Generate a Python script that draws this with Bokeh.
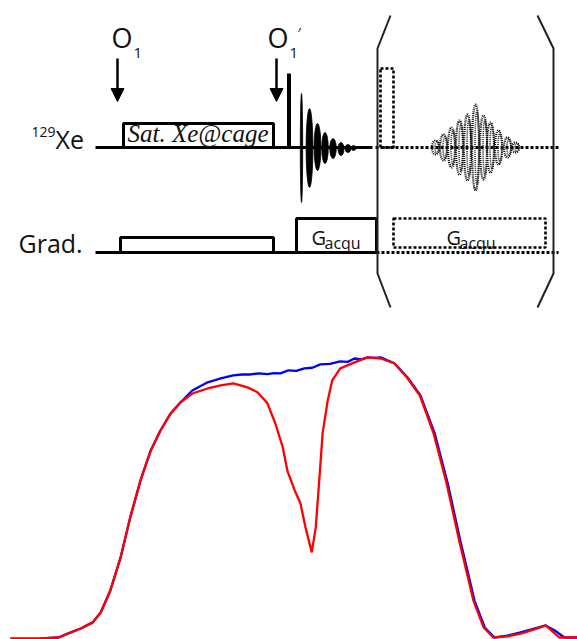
from bokeh.plotting import figure
from bokeh.models import Range1d, Arrow, NormalHead
from bokeh.layouts import column
from bokeh.core.properties import value
from bokeh.embed import file_html
from bokeh.resources import INLINE

# ---------------- spectrum data (frequency 0-100, normalized intensity) -------------
freq_blue = [0.35, 5.1, 8.8, 10.4, 12.7, 14.8, 16.2, 17.9, 19.7, 21.4, 23.2, 25.0, 26.7,
             28.5, 30.2, 32.3, 35.0, 37.3, 39.5, 41.0, 42.5, 44.0, 45.5, 46.7, 47.8, 49.2,
             50.6, 52.0, 53.4, 54.8, 56.5, 58.3, 59.6, 60.8, 62.0, 63.1, 64.3, 65.4, 67.8,
             70.1, 72.4, 74.9, 77.2, 79.4, 81.9, 83.7, 85.4, 87.7, 90.0, 92.4, 94.4, 96.0,
             97.7, 100.0]
int_blue = [-0.004, -0.004, 0.0, 0.014, 0.032, 0.054, 0.089, 0.168, 0.286, 0.429, 0.561,
            0.668, 0.739, 0.800, 0.839, 0.882, 0.911, 0.925, 0.936, 0.939, 0.939, 0.943,
            0.940, 0.944, 0.943, 0.954, 0.952, 0.961, 0.963, 0.975, 0.977, 0.986, 0.984,
            0.996, 0.993, 1.0, 0.998, 1.0, 0.979, 0.929, 0.864, 0.729, 0.550, 0.346, 0.132,
            0.036, 0.0, 0.007, 0.018, 0.032, 0.043, 0.025, 0.0, 0.0]

freq_red = [0.35, 5.1, 8.8, 10.4, 12.7, 14.8, 16.2, 17.9, 19.7, 21.4, 23.2, 25.0, 26.7,
            28.5, 30.2, 32.3, 35.0, 37.3, 39.5, 42.0, 43.8, 45.5, 46.9, 48.2, 49.0, 50.3,
            51.3, 52.2, 53.3, 54.0, 54.7, 55.2, 56.1, 56.9, 58.3, 60.8, 63.1, 65.4, 67.8,
            70.0, 72.3, 74.7, 77.0, 79.2, 81.7, 83.5, 85.2, 87.7, 90.0, 92.4, 94.4, 96.8,
            100.0]
int_red = [-0.004, -0.004, 0.0, 0.014, 0.032, 0.054, 0.089, 0.168, 0.286, 0.429, 0.561,
           0.668, 0.739, 0.800, 0.839, 0.871, 0.889, 0.900, 0.907, 0.893, 0.875, 0.836,
           0.764, 0.679, 0.596, 0.525, 0.479, 0.393, 0.304, 0.393, 0.586, 0.729, 0.846,
           0.918, 0.961, 0.982, 1.0, 0.996, 0.979, 0.929, 0.864, 0.729, 0.550, 0.346,
           0.132, 0.036, 0.0, 0.004, 0.014, 0.029, 0.043, 0.0, 0.0]

# ---------------- pulse-sequence schematic (drawing units) ----------------
xe_level = 147
grad_level = 252
solid_x = [[95, 372], [95, 376]]
solid_y = [[xe_level, xe_level], [grad_level, grad_level]]
dotted_x = [[375, 558], [376, 558]]
dotted_y = [[xe_level, xe_level], [grad_level, grad_level]]

sat_box = dict(left=[123], right=[273], top=[123], bottom=[xe_level])
grad_boxes = dict(left=[120, 296], right=[273, 376], top=[237, 218], bottom=[grad_level, grad_level])
dotted_boxes = dict(left=[380, 393], right=[393, 545], top=[68, 218], bottom=[xe_level, 247])

pulse_x = 288.5
pulse_top = 73

fid_x = [301, 309, 317, 324.5, 332.5, 340.5, 347.5, 353]
fid_up = [54, 39, 24, 15, 9, 5, 3, 2]
fid_down = [55, 40, 23, 16, 11, 8, 5, 3]
fid_w = [2.4, 6.8, 6.8, 6.5, 6.5, 6, 5.5, 4.5]

echo_x = [435, 443, 451, 459, 467, 475, 483, 490, 498, 507, 515]
echo_amp = [7, 13, 20, 27, 33, 43, 32, 25, 17, 10, 5]

bracket_left_x = [390, 377, 377, 390]
bracket_right_x = [537, 553, 553, 537]
bracket_y = [15, 48, 273, 307]

arrow_x = [117, 276]

FONT = value("Open Sans")

top = figure(width=577, height=323, x_range=Range1d(0, 577), y_range=Range1d(323, 0),
             x_axis_type=None, y_axis_type=None, output_backend="svg",
             toolbar_location=None, min_border=0)
top.grid.visible = False
top.outline_line_color = None
top.background_fill_color = "white"
top.border_fill_color = "white"

# baselines
top.multi_line(xs=solid_x, ys=solid_y, line_color="black", line_width=3)
top.multi_line(xs=dotted_x, ys=dotted_y, line_color="black", line_width=3, line_dash="3 2")

# boxes
top.quad(**sat_box, fill_color=None, line_color="black", line_width=3)
top.quad(**grad_boxes, fill_color=None, line_color="black", line_width=3)
top.quad(**dotted_boxes, fill_color=None, line_color="black", line_width=2.6, line_dash="3 2")

# hard pulse
top.segment(x0=[pulse_x], y0=[xe_level], x1=[pulse_x], y1=[pulse_top], line_color="black", line_width=4)

# FID
fid_yc = [xe_level + (d - u) / 2 for u, d in zip(fid_up, fid_down)]
fid_h = [u + d for u, d in zip(fid_up, fid_down)]
top.ellipse(x=fid_x, y=fid_yc, width=fid_w, height=fid_h, fill_color="black", line_color="black", line_width=0.8)

# echo (dotted)
top.ellipse(x=echo_x, y=[xe_level] * len(echo_x), width=[7] * len(echo_x),
            height=[2 * a for a in echo_amp], fill_color=None, line_color="black",
            line_width=2.2, line_dash="1 1")
top.ellipse(x=[x + 1.5 for x in echo_x], y=[xe_level] * len(echo_x), width=[4] * len(echo_x),
            height=[1.7 * a for a in echo_amp], fill_color=None, line_color="#222222",
            line_width=1.6, line_dash="1 1")

# brackets
top.line(bracket_left_x, bracket_y, line_color="#222222", line_width=2)
top.line(bracket_right_x, bracket_y, line_color="#222222", line_width=2)

# offset arrows
for ax in arrow_x:
    top.add_layout(Arrow(end=NormalHead(size=13, fill_color="black", line_color="black"),
                         x_start=ax, y_start=58, x_end=ax, y_end=101,
                         line_width=2.5, line_color="black"))

# texts (y given as the visual baseline; shifted to the renderer's baseline)
def txt(x, y, s, size, font=FONT, style="normal"):
    top.text(x=[x], y=[y - 0.4 * size], text=[s], text_font=font,
             text_font_size=value(f"{size}px"), text_font_style=style,
             text_color="#111111", text_baseline="alphabetic", text_align="left")

txt(111, 48, "O", 27)
txt(133, 58, "1", 15)
txt(267, 48, "O", 27)
txt(289, 58, "1", 15)
txt(297, 37, "′", 15)
txt(31, 137, "129", 14)
txt(55, 148, "Xe", 25)
txt(18, 252, "Grad.", 25)
txt(127, 143, "Sat. Xe@cage", 25, font=value("Liberation Serif"), style="italic")
txt(311, 245, "G", 20)
txt(324, 249, "acqu", 16)
txt(446, 245, "G", 20)
txt(459, 249, "acqu", 16)

# ---------------- spectrum panel ----------------
bot = figure(width=577, height=316, x_range=Range1d(-1.41, 100), y_range=Range1d(-0.0071, 1.121),
             x_axis_type=None, y_axis_type=None, output_backend="svg",
             toolbar_location=None, min_border=0)
bot.grid.visible = False
bot.outline_line_color = None
bot.background_fill_color = "white"
bot.border_fill_color = "white"
bot.line(freq_blue, int_blue, line_color="#0000ff", line_width=2.3)
bot.line(freq_red, int_red, line_color="#ff0000", line_width=2.3)

layout = column(top, bot, spacing=0)
open("out.html", "w").write(file_html(layout, INLINE))
